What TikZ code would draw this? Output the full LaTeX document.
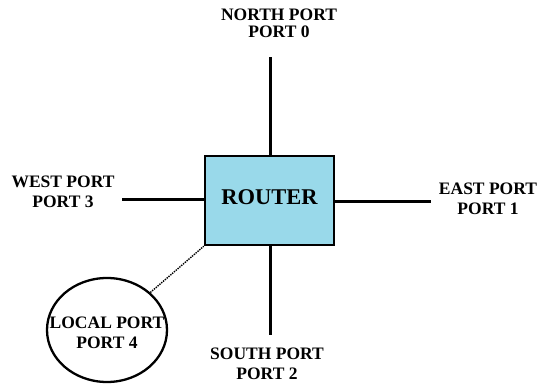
\documentclass[tikz,border=0pt]{standalone}
\usepackage{fontspec}
\setmainfont{Liberation Serif}
\usetikzlibrary{shapes}

\definecolor{routerblue}{RGB}{153,217,234}

\begin{document}
\begin{tikzpicture}[x=1pt,y=-1pt]
		\tikzstyle{every node} = [font = \fontsize{17.5}{20}\selectfont\bfseries]
		\tikzstyle{port label} = [align = center, inner sep = 0pt]
		\tikzstyle{port line} = [draw, line width = 2.2pt]
			\useasboundingbox (0,0) rectangle (538,385);
			\node[draw, line width = 2.5pt, fill = routerblue, minimum width = 129pt, minimum height = 89pt,
				text height = 15pt, text depth = 8pt, font = \fontsize{22.5}{24}\selectfont\bfseries]
				(router) at (269.5,200.5) {ROUTER};
			\node[port label] (north) at (279,23.5) {NORTH PORT\\[-3pt]PORT 0};
			\node[port label] (west) at (63,191.5) {WEST PORT\\PORT 3};
			\node[port label] (east) at (488,199) {EAST PORT\\PORT 1};
			\node[port label] (south) at (267,364) {SOUTH PORT\\PORT 2};
			\node[draw, ellipse, line width = 2.3pt, minimum width = 120pt, minimum height = 104pt, inner sep = 0pt]
				(local) at (107,330) {};
			\node[port label] (localtext) at (107,333) {LOCAL PORT\\PORT 4};
			\coordinate (nEnd) at (270.5,57);
			\coordinate (sEnd) at (270.5,335);
			\coordinate (wEnd) at (122,199.5);
			\coordinate (eEnd) at (431,201.5);
			\path[port line] (router.north -| nEnd) -- (nEnd);
			\path[port line] (router.south -| sEnd) -- (sEnd);
			\path[port line] (router.west |- wEnd) -- (wEnd);
			\path[port line] (router.east |- eEnd) -- (eEnd);
			\path[draw, densely dotted, line width = 1.4pt] (local) -- (router.south west);
		\end{tikzpicture}
\end{document}
